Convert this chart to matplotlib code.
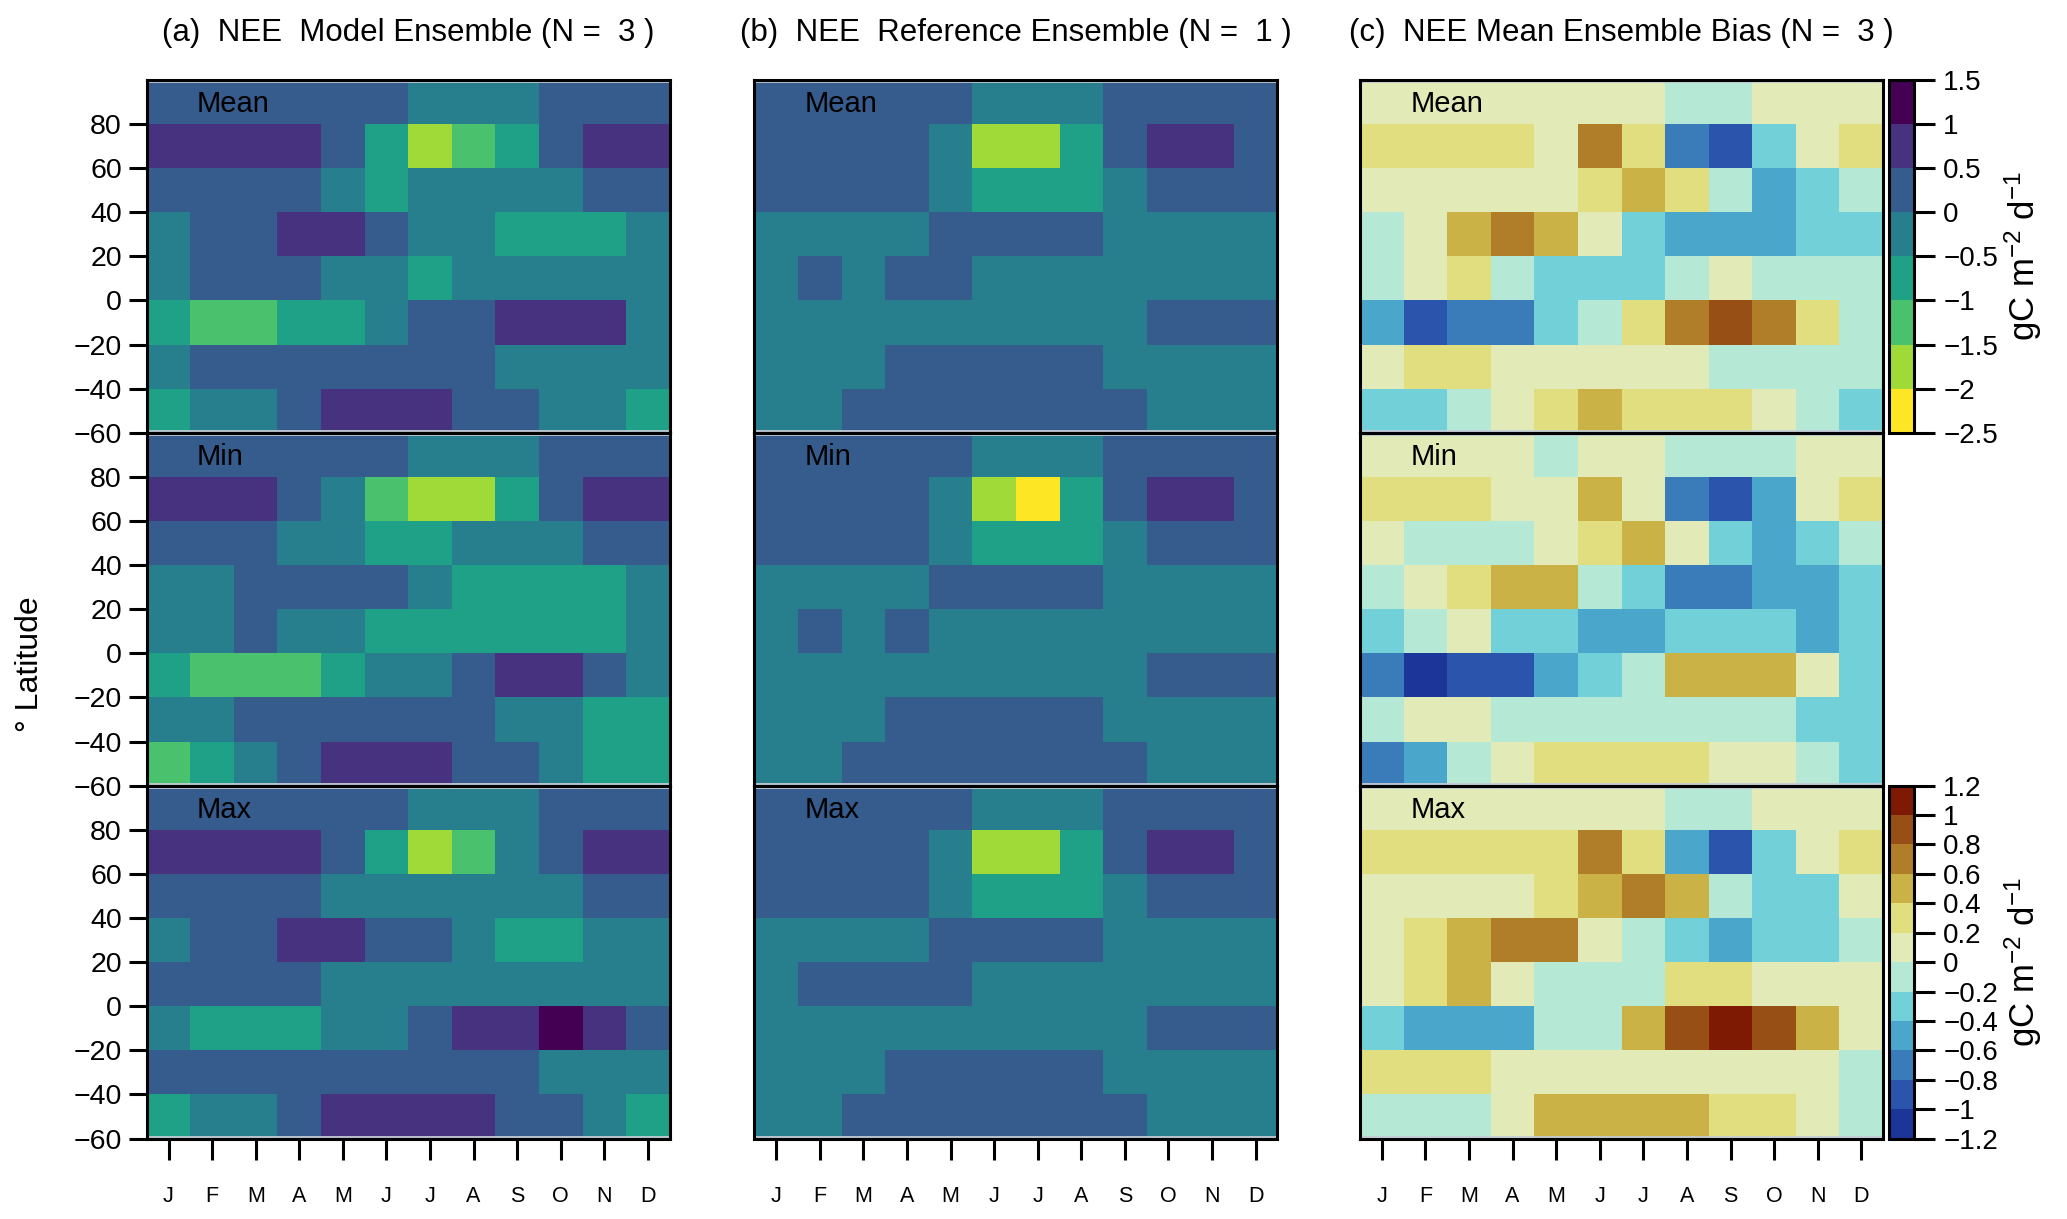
import numpy as np
import matplotlib
matplotlib.use("Agg")
import matplotlib.pyplot as plt
from matplotlib.colors import ListedColormap, BoundaryNorm

plt.rcParams['font.family'] = ['Liberation Sans', 'DejaVu Sans']
plt.rcParams['mathtext.default'] = 'regular'

# months and latitude bands (rows listed north -> south: 80..100 first)
months = ['J', 'F', 'M', 'A', 'M', 'J', 'J', 'A', 'S', 'O', 'N', 'D']
lat_edges = [100, 80, 60, 40, 20, 0, -20, -40, -60]
lat_ticks = [-60, -40, -20, 0, 20, 40, 60, 80]

# NEE (gC m-2 d-1), values
model_mean = [
    [0.25, 0.25, 0.25, 0.25, 0.25, 0.25, -0.25, -0.25, -0.25, 0.25, 0.25, 0.25],
    [0.75, 0.75, 0.75, 0.75, 0.25, -0.75, -1.75, -1.25, -0.75, 0.25, 0.75, 0.75],
    [0.25, 0.25, 0.25, 0.25, -0.25, -0.75, -0.25, -0.25, -0.25, -0.25, 0.25, 0.25],
    [-0.25, 0.25, 0.25, 0.75, 0.75, 0.25, -0.25, -0.25, -0.75, -0.75, -0.75, -0.25],
    [-0.25, 0.25, 0.25, 0.25, -0.25, -0.25, -0.75, -0.25, -0.25, -0.25, -0.25, -0.25],
    [-0.75, -1.25, -1.25, -0.75, -0.75, -0.25, 0.25, 0.25, 0.75, 0.75, 0.75, -0.25],
    [-0.25, 0.25, 0.25, 0.25, 0.25, 0.25, 0.25, 0.25, -0.25, -0.25, -0.25, -0.25],
    [-0.75, -0.25, -0.25, 0.25, 0.75, 0.75, 0.75, 0.25, 0.25, -0.25, -0.25, -0.75],
]
model_min = [
    [0.25, 0.25, 0.25, 0.25, 0.25, 0.25, -0.25, -0.25, -0.25, 0.25, 0.25, 0.25],
    [0.75, 0.75, 0.75, 0.25, -0.25, -1.25, -1.75, -1.75, -0.75, 0.25, 0.75, 0.75],
    [0.25, 0.25, 0.25, -0.25, -0.25, -0.75, -0.75, -0.25, -0.25, -0.25, 0.25, 0.25],
    [-0.25, -0.25, 0.25, 0.25, 0.25, 0.25, -0.25, -0.75, -0.75, -0.75, -0.75, -0.25],
    [-0.25, -0.25, 0.25, -0.25, -0.25, -0.75, -0.75, -0.75, -0.75, -0.75, -0.75, -0.25],
    [-0.75, -1.25, -1.25, -1.25, -0.75, -0.25, -0.25, 0.25, 0.75, 0.75, 0.25, -0.25],
    [-0.25, -0.25, 0.25, 0.25, 0.25, 0.25, 0.25, 0.25, -0.25, -0.25, -0.75, -0.75],
    [-1.25, -0.75, -0.25, 0.25, 0.75, 0.75, 0.75, 0.25, 0.25, -0.25, -0.75, -0.75],
]
model_max = [
    [0.25, 0.25, 0.25, 0.25, 0.25, 0.25, -0.25, -0.25, -0.25, 0.25, 0.25, 0.25],
    [0.75, 0.75, 0.75, 0.75, 0.25, -0.75, -1.75, -1.25, -0.25, 0.25, 0.75, 0.75],
    [0.25, 0.25, 0.25, 0.25, -0.25, -0.25, -0.25, -0.25, -0.25, -0.25, 0.25, 0.25],
    [-0.25, 0.25, 0.25, 0.75, 0.75, 0.25, 0.25, -0.25, -0.75, -0.75, -0.25, -0.25],
    [0.25, 0.25, 0.25, 0.25, -0.25, -0.25, -0.25, -0.25, -0.25, -0.25, -0.25, -0.25],
    [-0.25, -0.75, -0.75, -0.75, -0.25, -0.25, 0.25, 0.75, 0.75, 1.25, 0.75, 0.25],
    [0.25, 0.25, 0.25, 0.25, 0.25, 0.25, 0.25, 0.25, 0.25, -0.25, -0.25, -0.25],
    [-0.75, -0.25, -0.25, 0.25, 0.75, 0.75, 0.75, 0.75, 0.25, 0.25, -0.25, -0.75],
]

ref_mean = [
    [0.25, 0.25, 0.25, 0.25, 0.25, -0.25, -0.25, -0.25, 0.25, 0.25, 0.25, 0.25],
    [0.25, 0.25, 0.25, 0.25, -0.25, -1.75, -1.75, -0.75, 0.25, 0.75, 0.75, 0.25],
    [0.25, 0.25, 0.25, 0.25, -0.25, -0.75, -0.75, -0.75, -0.25, 0.25, 0.25, 0.25],
    [-0.25, -0.25, -0.25, -0.25, 0.25, 0.25, 0.25, 0.25, -0.25, -0.25, -0.25, -0.25],
    [-0.25, 0.25, -0.25, 0.25, 0.25, -0.25, -0.25, -0.25, -0.25, -0.25, -0.25, -0.25],
    [-0.25, -0.25, -0.25, -0.25, -0.25, -0.25, -0.25, -0.25, -0.25, 0.25, 0.25, 0.25],
    [-0.25, -0.25, -0.25, 0.25, 0.25, 0.25, 0.25, 0.25, -0.25, -0.25, -0.25, -0.25],
    [-0.25, -0.25, 0.25, 0.25, 0.25, 0.25, 0.25, 0.25, 0.25, -0.25, -0.25, -0.25],
]
ref_min = [
    [0.25, 0.25, 0.25, 0.25, 0.25, -0.25, -0.25, -0.25, 0.25, 0.25, 0.25, 0.25],
    [0.25, 0.25, 0.25, 0.25, -0.25, -1.75, -2.25, -0.75, 0.25, 0.75, 0.75, 0.25],
    [0.25, 0.25, 0.25, 0.25, -0.25, -0.75, -0.75, -0.75, -0.25, 0.25, 0.25, 0.25],
    [-0.25, -0.25, -0.25, -0.25, 0.25, 0.25, 0.25, 0.25, -0.25, -0.25, -0.25, -0.25],
    [-0.25, 0.25, -0.25, 0.25, -0.25, -0.25, -0.25, -0.25, -0.25, -0.25, -0.25, -0.25],
    [-0.25, -0.25, -0.25, -0.25, -0.25, -0.25, -0.25, -0.25, -0.25, 0.25, 0.25, 0.25],
    [-0.25, -0.25, -0.25, 0.25, 0.25, 0.25, 0.25, 0.25, -0.25, -0.25, -0.25, -0.25],
    [-0.25, -0.25, 0.25, 0.25, 0.25, 0.25, 0.25, 0.25, 0.25, -0.25, -0.25, -0.25],
]
ref_max = [
    [0.25, 0.25, 0.25, 0.25, 0.25, -0.25, -0.25, -0.25, 0.25, 0.25, 0.25, 0.25],
    [0.25, 0.25, 0.25, 0.25, -0.25, -1.75, -1.75, -0.75, 0.25, 0.75, 0.75, 0.25],
    [0.25, 0.25, 0.25, 0.25, -0.25, -0.75, -0.75, -0.75, -0.25, 0.25, 0.25, 0.25],
    [-0.25, -0.25, -0.25, -0.25, 0.25, 0.25, 0.25, 0.25, -0.25, -0.25, -0.25, -0.25],
    [-0.25, 0.25, 0.25, 0.25, 0.25, -0.25, -0.25, -0.25, -0.25, -0.25, -0.25, -0.25],
    [-0.25, -0.25, -0.25, -0.25, -0.25, -0.25, -0.25, -0.25, -0.25, 0.25, 0.25, 0.25],
    [-0.25, -0.25, -0.25, 0.25, 0.25, 0.25, 0.25, 0.25, -0.25, -0.25, -0.25, -0.25],
    [-0.25, -0.25, 0.25, 0.25, 0.25, 0.25, 0.25, 0.25, 0.25, -0.25, -0.25, -0.25],
]

bias_mean = [
    [0.1, 0.1, 0.1, 0.1, 0.1, 0.1, 0.1, -0.1, -0.1, 0.1, 0.1, 0.1],
    [0.3, 0.3, 0.3, 0.3, 0.1, 0.7, 0.3, -0.7, -0.9, -0.3, 0.1, 0.3],
    [0.1, 0.1, 0.1, 0.1, 0.1, 0.3, 0.5, 0.3, -0.1, -0.5, -0.3, -0.1],
    [-0.1, 0.1, 0.5, 0.7, 0.5, 0.1, -0.3, -0.5, -0.5, -0.5, -0.3, -0.3],
    [-0.1, 0.1, 0.3, -0.1, -0.3, -0.3, -0.3, -0.1, 0.1, -0.1, -0.1, -0.1],
    [-0.5, -0.9, -0.7, -0.7, -0.3, -0.1, 0.3, 0.7, 0.9, 0.7, 0.3, -0.1],
    [0.1, 0.3, 0.3, 0.1, 0.1, 0.1, 0.1, 0.1, -0.1, -0.1, -0.1, -0.1],
    [-0.3, -0.3, -0.1, 0.1, 0.3, 0.5, 0.3, 0.3, 0.3, 0.1, -0.1, -0.3],
]
bias_min = [
    [0.1, 0.1, 0.1, 0.1, -0.1, 0.1, 0.1, -0.1, -0.1, -0.1, 0.1, 0.1],
    [0.3, 0.3, 0.3, 0.1, 0.1, 0.5, 0.1, -0.7, -0.9, -0.5, 0.1, 0.3],
    [0.1, -0.1, -0.1, -0.1, 0.1, 0.3, 0.5, 0.1, -0.3, -0.5, -0.3, -0.1],
    [-0.1, 0.1, 0.3, 0.5, 0.5, -0.1, -0.3, -0.7, -0.7, -0.5, -0.5, -0.3],
    [-0.3, -0.1, 0.1, -0.3, -0.3, -0.5, -0.5, -0.3, -0.3, -0.3, -0.5, -0.3],
    [-0.7, -1.1, -0.9, -0.9, -0.5, -0.3, -0.1, 0.5, 0.5, 0.5, 0.1, -0.3],
    [-0.1, 0.1, 0.1, -0.1, -0.1, -0.1, -0.1, -0.1, -0.1, -0.1, -0.3, -0.3],
    [-0.7, -0.5, -0.1, 0.1, 0.3, 0.3, 0.3, 0.3, 0.1, 0.1, -0.1, -0.3],
]
bias_max = [
    [0.1, 0.1, 0.1, 0.1, 0.1, 0.1, 0.1, -0.1, -0.1, 0.1, 0.1, 0.1],
    [0.3, 0.3, 0.3, 0.3, 0.3, 0.7, 0.3, -0.5, -0.9, -0.3, 0.1, 0.3],
    [0.1, 0.1, 0.1, 0.1, 0.3, 0.5, 0.7, 0.5, -0.1, -0.3, -0.3, 0.1],
    [0.1, 0.3, 0.5, 0.7, 0.7, 0.1, -0.1, -0.3, -0.5, -0.3, -0.3, -0.1],
    [0.1, 0.3, 0.5, 0.1, -0.1, -0.1, -0.1, 0.3, 0.3, 0.1, 0.1, 0.1],
    [-0.3, -0.5, -0.5, -0.5, -0.1, -0.1, 0.5, 0.9, 1.1, 0.9, 0.5, 0.1],
    [0.3, 0.3, 0.3, 0.1, 0.1, 0.1, 0.1, 0.1, 0.1, 0.1, 0.1, -0.1],
    [-0.1, -0.1, -0.1, 0.1, 0.5, 0.5, 0.5, 0.5, 0.3, 0.3, 0.1, -0.1],
]

titles = ['(a)  NEE  Model Ensemble (N =  3 )',
          '(b)  NEE  Reference Ensemble (N =  1 )',
          '(c)  NEE Mean Ensemble Bias (N =  3 )']
row_names = ['Mean', 'Min', 'Max']

# discrete colour scales
nee_levels = np.arange(-2.5, 1.51, 0.5)
nee_cmap = ListedColormap(plt.cm.viridis(np.linspace(0, 1, 8))[::-1])
nee_norm = BoundaryNorm(nee_levels, nee_cmap.N)

bias_levels = np.round(np.arange(-1.2, 1.21, 0.2), 1)
bias_cmap = ListedColormap(['#1B3598', '#2B55AD', '#3A7BBA', '#4AA7CB', '#72D0D8', '#B5E9D5',
                            '#E2EBB8', '#E0DE7E', '#CAB246', '#B07D28', '#984F15', '#7E1A03'])
bias_norm = BoundaryNorm(bias_levels, bias_cmap.N)

panels = [[model_mean, model_min, model_max],
          [ref_mean, ref_min, ref_max],
          [bias_mean, bias_min, bias_max]]

fig = plt.figure(figsize=(20.67, 12.19), dpi=100)

lefts = [0.071, 0.365, 0.658]
width = 0.253
height = 0.2895
bottoms = [0.066 + 2 * height, 0.066 + height, 0.066]
month_edges = np.arange(13)

def fmt(v):
    v = round(float(v), 1) + 0.0
    if abs(v) < 1e-9:
        v = 0.0
    return f"{v:g}".replace('-', '\u2212')

for c in range(3):
    for r in range(3):
        ax = fig.add_axes([lefts[c], bottoms[r], width, height])
        if c < 2:
            cmap, norm = nee_cmap, nee_norm
        else:
            cmap, norm = bias_cmap, bias_norm
        ax.pcolormesh(month_edges, lat_edges, np.array(panels[c][r]), cmap=cmap, norm=norm)
        # faint light line just inside the frame, as in the original
        ax.axhline(98.9, color='#c4ccd4', lw=1.3)
        ax.axhline(-59.1, color='#c4ccd4', lw=1.3)
        ax.set_xlim(0, 12)
        ax.set_ylim(-60, 100)
        for s in ax.spines.values():
            s.set_linewidth(2.2)
        ax.text(1.15, 89, row_names[r], fontsize=21, va='center', ha='left')
        if c == 0:
            ax.set_yticks(lat_ticks)
            ax.set_yticklabels([fmt(v) for v in lat_ticks], fontsize=20.5)
            ax.tick_params(axis='y', length=13, width=2.2, direction='out', pad=5)
        else:
            ax.set_yticks([])
        if r == 2:
            ax.set_xticks(np.arange(12) + 0.5)
            ax.set_xticklabels(months, fontsize=15.5)
            ax.tick_params(axis='x', length=15, width=2.2, pad=19, direction='out')
        else:
            ax.set_xticks([])
        if r == 0:
            ax.set_title(titles[c], fontsize=22.5, pad=28)

# colour bars on the right of panel (c)
cax1 = fig.add_axes([0.914, bottoms[0], 0.012, height])
cb1 = fig.colorbar(plt.cm.ScalarMappable(norm=nee_norm, cmap=nee_cmap), cax=cax1, ticks=nee_levels)
cb1.set_ticklabels([fmt(v) for v in nee_levels])
cax2 = fig.add_axes([0.914, bottoms[2], 0.012, height])
cb2 = fig.colorbar(plt.cm.ScalarMappable(norm=bias_norm, cmap=bias_cmap), cax=cax2, ticks=bias_levels)
cb2.set_ticklabels([fmt(v) for v in bias_levels])
for cb in (cb1, cb2):
    cb.outline.set_linewidth(2.2)
    cb.ax.tick_params(labelsize=20, length=15, width=2.2, pad=6)
    cb.set_label('gC m$^{-2}$ d$^{-1}$', fontsize=25, labelpad=3)

fig.text(0.0145, 0.455, '\u00b0 Latitude', rotation=90, fontsize=23, va='center', ha='center')

plt.savefig("out.png", dpi=100)
